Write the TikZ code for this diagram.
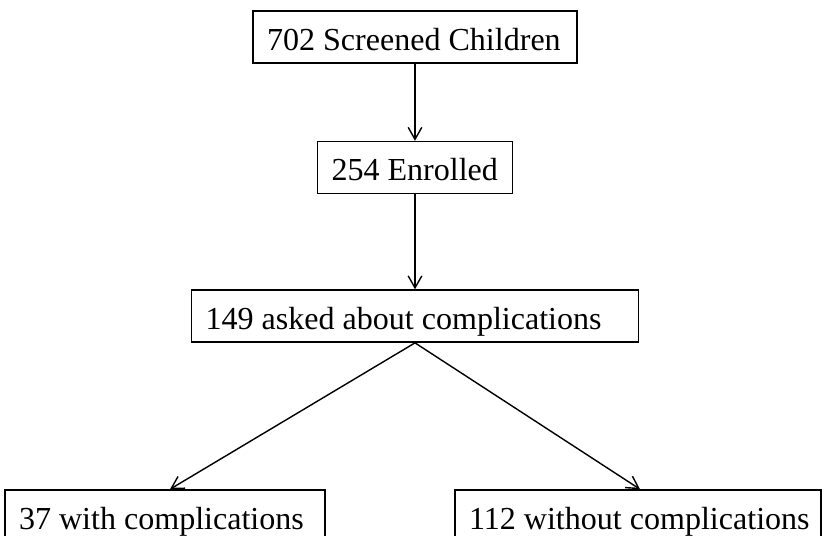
\documentclass[tikz,border=0pt]{standalone}
\usepackage{fontspec}
\setmainfont{Liberation Serif}
\usetikzlibrary{positioning, arrows.meta}

\begin{document}
\begin{tikzpicture}[
    font=\fontsize{22.8}{27}\selectfont,
    % Styles
    flowbox/.style={
        draw,
        rectangle,
        line width=1.1pt,
        inner xsep=0.35cm,
        minimum height=1.3cm,
        text height=19pt,
        text depth=0.5pt
    },
    arrow/.style={-{Straight Barb[length=0.3cm, width=0.34cm]}, line width=1pt}
]
    \useasboundingbox (0,0) rectangle (20.575,-13.4);

    % --- MAIN CHAIN ---
    \node[flowbox] (screened) at (10.375,-0.925) {\makebox[7.4cm][l]{702 Screened Children}};
    \node[flowbox, below=1.925cm of screened] (enrolled) {\makebox[4.175cm][l]{254 Enrolled}};
    \node[flowbox, below=2.375cm of enrolled] (asked) {\makebox[10.475cm][l]{149 asked about complications}};

    % --- OUTCOMES ---
    \node[flowbox] (withcomp) at (4.125,-12.9) {\makebox[7.3cm][l]{37 with complications}};
    \node[flowbox] (withoutcomp) at (15.95,-12.9) {\makebox[8.45cm][l]{112 without complications}};

    % --- ARROWS ---
    \draw[arrow] (screened.south) -- (enrolled.north);
    \draw[arrow] (enrolled.south) -- (asked.north);
    \draw[arrow] (asked.south) -- ([xshift=0.125cm]withcomp.north);
    \draw[arrow] (asked.south) -- ([xshift=0.05cm]withoutcomp.north);

\end{tikzpicture}
\end{document}
